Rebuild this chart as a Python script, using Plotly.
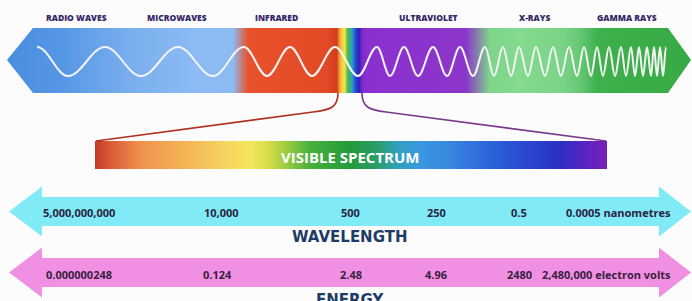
import plotly.graph_objects as go

# ---------------- data ----------------
band_names = ["RADIO WAVES", "MICROWAVES", "INFRARED", "ULTRAVIOLET", "X-RAYS", "GAMMA RAYS"]
wavelength_labels = ["5,000,000,000", "10,000", "500", "250", "0.5", "0.0005 nanometres"]
energy_labels = ["0.000000248", "0.124", "2.48", "4.96", "2480", "2,480,000 electron volts"]
visible_title = "VISIBLE SPECTRUM"
wavelength_title = "WAVELENGTH"
energy_title = "ENERGY"

# wave extrema positions (crest, trough, crest, ...)
wave_extrema_x = [37, 68, 105, 141, 178, 213, 244, 267, 290, 312, 335, 358, 377, 390, 404, 418,
                  433, 447, 460, 473, 485, 494, 503, 511, 519, 528, 536, 545, 553, 561, 569, 577,
                  584, 591, 597, 603, 609, 615, 621, 626, 631, 635, 639, 643, 647, 651, 654, 657,
                  660, 663, 666]

# ---------------- layout positions / styles ----------------
W, H = 692, 301
band_label_x = [76, 177, 276, 428, 534, 627]
label_x = [79, 221, 350, 436, 519, 618]
energy_x = [79, 217, 351, 436, 519, 606]

fig = go.Figure()

def poly(xs, ys, **kw):
    fig.add_trace(go.Scatter(x=xs + [xs[0]], y=ys + [ys[0]], mode="lines", fill="toself",
                             line=dict(width=0), hoverinfo="skip", showlegend=False, **kw))

# top spectrum band (double arrow)
band_stops = [(7, "#4a8ddf"), (60, "#5597e4"), (130, "#7aaeee"), (200, "#8dbcf5"), (233, "#8cbbf2"),
              (248, "#e8522a"), (328, "#e24a26"), (337, "#d23c1e"), (339, "#f09030"), (342, "#f5d040"),
              (345, "#f2e256"), (347, "#62c040"), (350, "#2fb070"), (352, "#2ea0d4"), (355, "#2456d4"),
              (359, "#2c22b4"), (362, "#7a28c8"), (366, "#8b30d0"), (466, "#8b36ca"), (490, "#7ed68a"),
              (520, "#84da8e"), (562, "#7ad486"), (580, "#66c874"), (598, "#3eb04c"), (691, "#38aa44")]
bx0, bx1 = 7, 691
poly([7, 33, 668, 691, 668, 33], [60, 28, 28, 60, 93, 93],
     fillgradient=dict(type="horizontal", start=bx0, stop=bx1,
                       colorscale=[[(x - bx0) / (bx1 - bx0), c] for x, c in band_stops]))

# visible spectrum bar
vis_stops = [(95, "#c43a28"), (110, "#d85a36"), (140, "#f0904e"), (185, "#f5b454"), (220, "#f5d062"),
             (250, "#f5e65c"), (270, "#d2dc48"), (290, "#90c840"), (310, "#48b03c"), (350, "#239a3a"),
             (378, "#2a9e6a"), (398, "#30a0c0"), (420, "#3a98e0"), (450, "#3a86e0"), (490, "#2a64d8"),
             (530, "#2a44d0"), (560, "#2a30c4"), (585, "#5a24c0"), (607, "#7a1eb8")]
vx0, vx1 = 95, 607
poly([95, 607, 607, 95], [141, 141, 169, 169],
     fillgradient=dict(type="horizontal", start=vx0, stop=vx1,
                       colorscale=[[(x - vx0) / (vx1 - vx0), c] for x, c in vis_stops]))

# wavelength / energy arrows
def double_arrow(yc, half_band, half_head, color):
    xs = [9, 42, 42, 659, 659, 691, 659, 659, 42, 42]
    ys = [yc, yc - half_head, yc - half_band, yc - half_band, yc - half_head, yc,
          yc + half_head, yc + half_band, yc + half_band, yc + half_head]
    poly(xs, ys, fillcolor=color)

double_arrow(211.5, 14.5, 25, "#80eaf7")
double_arrow(272.5, 14.5, 25, "#f190e3")

shapes = []
# wave
ys = [47 if i % 2 == 0 else 76 for i in range(len(wave_extrema_x))]
p = f"M {wave_extrema_x[0]},{ys[0]}"
for i in range(1, len(wave_extrema_x)):
    x0, x1 = wave_extrema_x[i - 1], wave_extrema_x[i]
    d = x1 - x0
    p += f" C {x0 + 0.364 * d:.2f},{ys[i - 1]} {x1 - 0.364 * d:.2f},{ys[i]} {x1},{ys[i]}"
shapes.append(dict(type="path", path=p, xref="x", yref="y", line=dict(color="#f4f4f4", width=2)))
# connector lines
shapes.append(dict(type="path", path="M 338,93 C 338,107 331,110 313,112 L 96,141",
                   xref="x", yref="y", line=dict(color="#b0301e", width=1.6)))
shapes.append(dict(type="path", path="M 362,93 C 362,107 369,110 386,112 L 606,141",
                   xref="x", yref="y", line=dict(color="#7a3a8c", width=1.6)))

ann = []
for name, x in zip(band_names, band_label_x):
    ann.append(dict(x=x, y=17, text=name, showarrow=False, xref="x", yref="y",
                    font=dict(family="Open Sans", size=8.5, color="#352766", weight=800)))
for t, x in zip(wavelength_labels, label_x):
    ann.append(dict(x=x, y=212, text=t, showarrow=False, xref="x", yref="y",
                    font=dict(family="Open Sans", size=11, color="#2a2440", weight="bold")))
for t, x in zip(energy_labels, energy_x):
    ann.append(dict(x=x, y=274, text=t, showarrow=False, xref="x", yref="y",
                    font=dict(family="Open Sans", size=11, color="#3a2040", weight="bold")))
ann.append(dict(x=350, y=157, text=visible_title, showarrow=False, xref="x", yref="y",
                font=dict(family="Open Sans", size=15, color="#ffffff", weight="bold")))
ann.append(dict(x=350, y=237, text=wavelength_title, showarrow=False, xref="x", yref="y",
                font=dict(family="DejaVu Sans", size=15, color="#1e3a66", weight="bold")))
ann.append(dict(x=350, y=300, text=energy_title, showarrow=False, xref="x", yref="y",
                font=dict(family="DejaVu Sans", size=15, color="#1e3a66", weight="bold")))

fig.update_layout(
    width=W, height=H, margin=dict(l=0, r=0, t=0, b=0),
    paper_bgcolor="#fcfcfc", plot_bgcolor="#fcfcfc",
    xaxis=dict(range=[0, W], visible=False, fixedrange=True),
    yaxis=dict(range=[H, 0], visible=False, fixedrange=True),
    shapes=shapes, annotations=ann, showlegend=False,
)

fig.write_html("out.html", config={"displayModeBar": False},
               post_script="document.body.style.margin='0';document.body.style.overflow='hidden';")
